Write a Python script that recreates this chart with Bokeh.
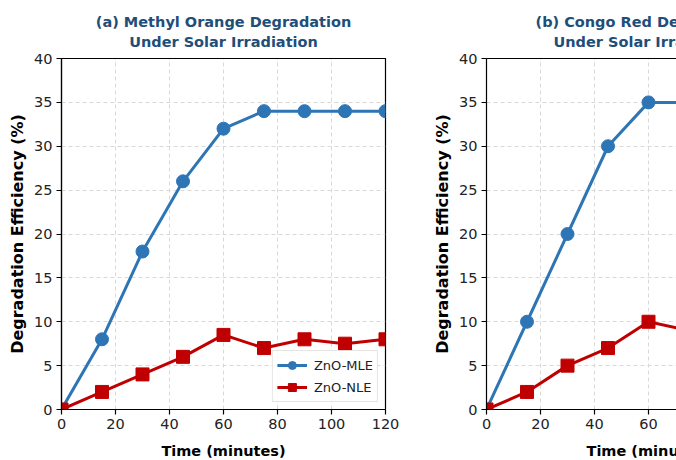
from bokeh.plotting import figure
from bokeh.layouts import row
from bokeh.models import (Legend, LegendItem, LinearAxis, FixedTicker, Range1d, Title)
from bokeh.embed import file_html
from bokeh.resources import INLINE

# ---- data ----
time_mo = [0, 15, 30, 45, 60, 75, 90, 105, 120]
mo_mle = [0, 8, 18, 26, 32, 34, 34, 34, 34]
mo_nle = [0, 2, 4, 6, 8.5, 7, 8, 7.5, 8]

time_cr = [0, 15, 30, 45, 60, 75]
cr_mle = [0, 10, 20, 30, 35, 35]
cr_nle = [0, 2, 5, 7, 10, 9]

x_ticks = [0, 20, 40, 60, 80, 100, 120]
y_ticks = [0, 5, 10, 15, 20, 25, 30, 35, 40]
series_names = ["ZnO-MLE", "ZnO-NLE"]
titles_a = ["(a) Methyl Orange Degradation", "Under Solar Irradiation"]
titles_b = ["(b) Congo Red Degradation", "Under Solar Irradiation"]
x_label = "Time (minutes)"
y_label = "Degradation Efficiency (%)"

BLUE = "#2E75B6"
RED = "#C00000"
TITLE_C = "#1F4E79"
FONT = "DejaVu Sans"


def make_title(text, color, align, offset, standoff, size="14.5px"):
    return Title(text=text, align=align, offset=offset, text_font=FONT,
                 text_font_style="bold", text_font_size=size, text_color=color,
                 standoff=standoff)


def make_panel(t, mle, nle, titles, width, x_end, left, right, outline, legend, offsets):
    p = figure(width=width, height=460, output_backend="svg", toolbar_location=None,
               x_range=Range1d(0, x_end), y_range=Range1d(0, 40),
               min_border_left=left, min_border_right=right,
               min_border_top=58, min_border_bottom=51)
    p.background_fill_color = "white"
    p.border_fill_color = "white"
    p.outline_line_color = "black" if outline else None
    p.outline_line_width = 1.2

    for ax, ticks in ((p.xaxis[0], x_ticks), (p.yaxis[0], y_ticks)):
        ax.ticker = FixedTicker(ticks=ticks)
        ax.axis_line_color = "black"
        ax.axis_line_width = 1.2
        ax.major_tick_line_color = "black"
        ax.major_tick_line_width = 1.2
        ax.major_tick_out = 5
        ax.major_tick_in = 0
        ax.minor_tick_line_color = None
        ax.major_label_text_font = FONT
        ax.major_label_text_font_size = "14.5px"
        ax.major_label_text_color = "#222222"
        ax.major_label_standoff = 4
        ax.axis_label_text_font = FONT
        ax.axis_label_text_font_style = "bold"
        ax.axis_label_text_color = "black"

    p.yaxis.axis_label = y_label
    p.yaxis.axis_label_text_font_size = "16px"
    p.yaxis.axis_label_standoff = 4

    # spacer label on the x axis so the x title sits near the bottom edge
    p.xaxis.axis_label = " "
    p.xaxis.axis_label_text_font_size = "1px"
    p.xaxis.axis_label_standoff = 5

    # top border line (plus spacing under the titles)
    top = LinearAxis(ticker=FixedTicker(ticks=[]), axis_line_color="black",
                     axis_line_width=1.2, major_tick_out=0, major_tick_in=0,
                     minor_tick_out=0, minor_tick_in=0, major_label_standoff=0,
                     axis_label=" ", axis_label_text_font_size="1px",
                     axis_label_standoff=4)
    p.add_layout(top, "above")

    for g in (p.xgrid[0], p.ygrid[0]):
        g.grid_line_color = "#d9d9d9"
        g.grid_line_dash = "4 3"
        g.grid_line_width = 1

    l1 = p.line(t, mle, line_color=BLUE, line_width=3)
    s1 = p.scatter(t, mle, marker="circle", size=13, fill_color=BLUE, line_color=BLUE)
    l2 = p.line(t, nle, line_color=RED, line_width=3)
    s2 = p.scatter(t, nle, marker="square", size=13, fill_color=RED, line_color=RED)

    align = "center" if offsets is None else "left"
    o = offsets or (0, 0, 0)
    # stacked titles: first added sits closest to the frame
    p.add_layout(make_title(titles[1], TITLE_C, align, o[1], 2), "above")
    p.add_layout(make_title(titles[0], TITLE_C, align, o[0], 2), "above")
    p.add_layout(make_title(x_label, "black", align, o[2], 0), "below")

    if legend:
        lg = Legend(items=[LegendItem(label=series_names[0], renderers=[l1, s1]),
                           LegendItem(label=series_names[1], renderers=[l2, s2])],
                    location="bottom_right")
        lg.margin = 7
        lg.padding = 4
        lg.spacing = 2
        lg.glyph_width = 30
        lg.glyph_height = 20
        lg.label_standoff = 7
        lg.label_text_font = FONT
        lg.label_text_font_size = "13px"
        lg.label_text_color = "#222222"
        lg.border_line_color = "#cccccc"
        lg.border_line_width = 1
        lg.background_fill_alpha = 0.85
        p.add_layout(lg)
    return p


pa = make_panel(time_mo, mo_mle, mo_nle, titles_a, 420, 120, 61, 35, True, True, None)
pb = make_panel(time_cr, cr_mle, cr_nle, titles_b, 256, 190 / 2.7, 66, 0, False, False,
                (49, 67, 100))

layout = row(pa, pb)
open("out.html", "w").write(file_html(layout, INLINE))
